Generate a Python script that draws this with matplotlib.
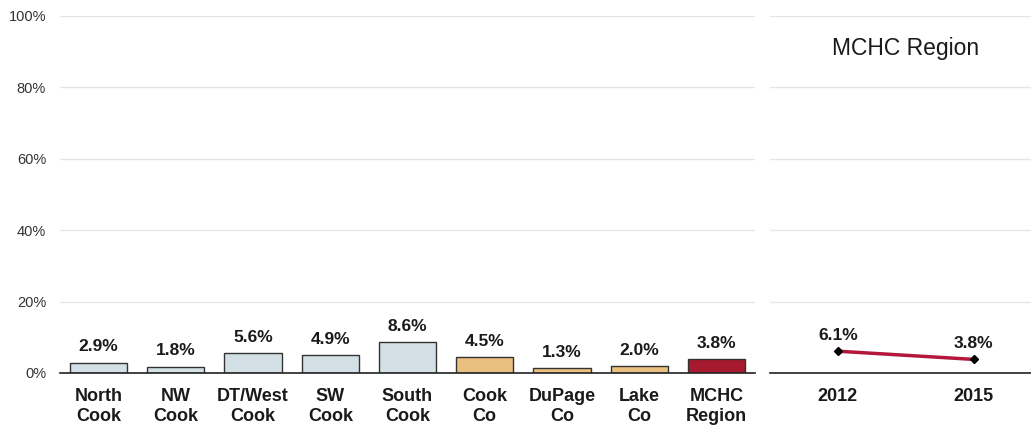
import matplotlib
matplotlib.use("Agg")
import matplotlib.pyplot as plt

plt.rcParams['font.family'] = ['Liberation Sans', 'DejaVu Sans']

categories = ["North\nCook", "NW\nCook", "DT/West\nCook", "SW\nCook", "South\nCook",
              "Cook\nCo", "DuPage\nCo", "Lake\nCo", "MCHC\nRegion"]
values = [2.9, 1.8, 5.6, 4.9, 8.6, 4.5, 1.3, 2.0, 3.8]
bar_colors = ["#d3e0e5"] * 5 + ["#e9c07f"] * 3 + ["#a6192e"]

years = ["2012", "2015"]
trend = [6.1, 3.8]
trend_title = "MCHC Region"

yticks = [0, 20, 40, 60, 80, 100]
ytick_labels = ["0%", "20%", "40%", "60%", "80%", "100%"]

fig = plt.figure(figsize=(10.31, 4.30), dpi=100)
ax = fig.add_axes([0.0582, 0.1326, 0.6741, 0.8302])
ax2 = fig.add_axes([0.7468, 0.1326, 0.2532, 0.8302])

x = list(range(len(categories)))
ax.bar(x, values, width=0.74, color=bar_colors, edgecolor="#333333", linewidth=1.0, zorder=3)
for xi, v in zip(x, values):
    ax.annotate(f"{v:.1f}%", (xi, v), xytext=(0, 6), textcoords="offset points",
                ha="center", va="bottom", fontsize=12.5, fontweight="bold", color="#1a1a1a")
ax.set_xlim(-0.5, len(categories) - 0.5)
ax.set_ylim(0, 100)
ax.set_yticks(yticks)
ax.set_yticklabels(ytick_labels, fontsize=10.5, color="#333333")
ax.set_xticks(x)
ax.set_xticklabels(categories, fontsize=13, fontweight="bold", color="#1a1a1a", linespacing=1.2)
ax.tick_params(axis="x", length=0, pad=11)
ax.tick_params(axis="y", length=0, pad=10)
ax.grid(axis="y", color="#e6e6e6", linewidth=1.0, zorder=0)
for s in ["top", "right", "left"]:
    ax.spines[s].set_visible(False)
ax.spines["bottom"].set_color("#222222")
ax.spines["bottom"].set_linewidth(1.2)
ax.spines["bottom"].set_zorder(4)

xp = [0, 1]
ax2.plot(xp, trend, color="#b5173a", linewidth=2.5, zorder=3)
ax2.plot(xp, trend, linestyle="none", marker="D", markersize=4.5, color="black", zorder=4)
for xi, v in zip(xp, trend):
    ax2.annotate(f"{v:.1f}%", (xi, v), xytext=(0, 6), textcoords="offset points",
                 ha="center", va="bottom", fontsize=12.5, fontweight="bold", color="#1a1a1a")
ax2.set_xlim(-0.5, 1.42)
ax2.set_ylim(0, 100)
ax2.set_yticks(yticks)
ax2.set_yticklabels([])
ax2.set_xticks(xp)
ax2.set_xticklabels(years, fontsize=13, fontweight="bold", color="#1a1a1a")
ax2.tick_params(axis="both", length=0, pad=11)
ax2.grid(axis="y", color="#e6e6e6", linewidth=1.0, zorder=0)
for s in ["top", "right", "left"]:
    ax2.spines[s].set_visible(False)
ax2.spines["bottom"].set_color("#222222")
ax2.spines["bottom"].set_linewidth(1.2)
ax2.text(0.52, 0.91, trend_title, transform=ax2.transAxes, ha="center", va="center",
         fontsize=16.5, color="#1a1a1a")

fig.savefig("out.png", dpi=100)
